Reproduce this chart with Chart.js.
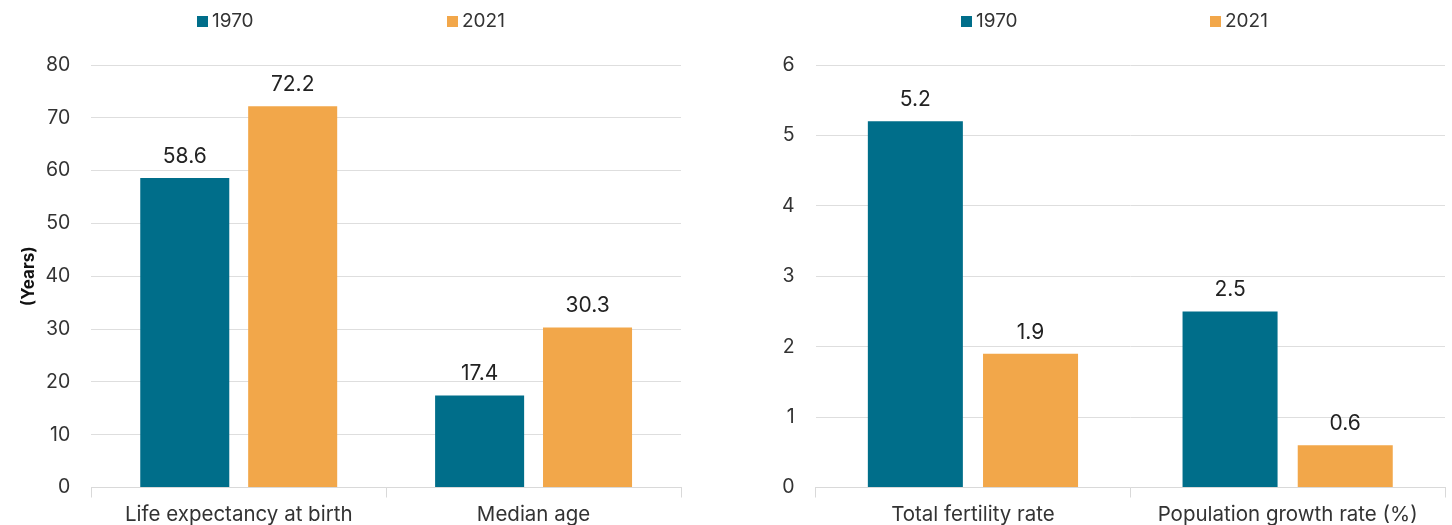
<!DOCTYPE html>
<html>
<head>
<meta charset="utf-8">
<script src="https://cdn.jsdelivr.net/npm/chart.js@4.4.1/dist/chart.umd.min.js"></script>
<style>
  body { margin: 0; background: #fff; font-family: Inter, "Liberation Sans", Arial, sans-serif; }
  #wrap { position: relative; width: 1452px; height: 525px; }
  .box { position: absolute; top: 0; height: 525px; }
  .legend { position: absolute; top: 9px; font-size: 19px; color: #333; white-space: nowrap; }
  .legend i { display: inline-block; width: 11px; height: 11px; margin-right: 4px; vertical-align: 0px; }
</style>
</head>
<body>
<div id="wrap">
  <div class="box" id="leftBox" style="left:0;width:700px"><canvas id="left"></canvas></div>
  <div class="box" id="rightBox" style="left:720px;width:732px"><canvas id="right"></canvas></div>
</div>
<script>
// series names + colours
const seriesNames = ['1970', '2021'];
const seriesColors = ['#006E8A', '#F2A74A'];

// left chart - years
const leftCategories = ['Life expectancy at birth', 'Median age'];
const left1970 = [58.6, 17.4];
const left2021 = [72.2, 30.3];

// right chart
const rightCategories = ['Total fertility rate', 'Population growth rate (%)'];
const right1970 = [5.2, 2.5];
const right2021 = [1.9, 0.6];

const FONT = 'Inter, "Liberation Sans", Arial, sans-serif';

// value labels above bars
const barLabels = {
  id: 'barLabels',
  afterDatasetsDraw(chart) {
    const ctx = chart.ctx;
    ctx.save();
    ctx.font = '21px ' + FONT;
    ctx.fillStyle = '#222';
    ctx.textAlign = 'center';
    ctx.textBaseline = 'bottom';
    chart.data.datasets.forEach((ds, i) => {
      chart.getDatasetMeta(i).data.forEach((bar, j) => {
        ctx.fillText(ds.data[j].toFixed(1), bar.x, bar.y - 11);
      });
    });
    ctx.restore();
  }
};

function makeChart(id, cats, a, b, yMax, yTitle, padLeft, padRight) {
  const ctx = document.getElementById(id).getContext('2d');
  return new Chart(ctx, {
    type: 'bar',
    data: {
      labels: cats,
      datasets: [
        { label: seriesNames[0], data: a, backgroundColor: seriesColors[0],
          categoryPercentage: 0.732, barPercentage: 0.825 },
        { label: seriesNames[1], data: b, backgroundColor: seriesColors[1],
          categoryPercentage: 0.732, barPercentage: 0.825 }
      ]
    },
    options: {
      responsive: true,
      maintainAspectRatio: false,
      animation: false,
      layout: { padding: { top: 65, left: padLeft, right: padRight, bottom: -7 } },
      plugins: { legend: { display: false }, tooltip: { enabled: false } },
      scales: {
        x: {
          grid: { offset: true, drawOnChartArea: false, drawTicks: true, tickLength: 10, color: '#d9d9d9' },
          border: { display: true, color: '#d9d9d9' },
          ticks: { color: '#333', font: { size: 20.5, family: FONT, lineHeight: 1 }, padding: 7 }
        },
        y: {
          min: 0, max: yMax,
          ticks: { stepSize: yMax === 80 ? 10 : 1, color: '#333', padding: 21,
                   font: { size: 19.5, family: FONT } },
          grid: { color: '#dedede', drawTicks: false },
          border: { display: false },
          title: { display: !!yTitle, text: yTitle, color: '#111', padding: { top: 2, bottom: -15 },
                   font: { size: 17, weight: 'bold', family: FONT } }
        }
      }
    },
    plugins: [barLabels]
  });
}

makeChart('left', leftCategories, left1970, left2021, 80, '(Years)', 17, 19);
makeChart('right', rightCategories, right1970, right2021, 6, '', 41, 7);

// html legends, one per chart
function legend(boxId, xs) {
  const box = document.getElementById(boxId);
  seriesNames.forEach((n, i) => {
    const d = document.createElement('div');
    d.className = 'legend';
    d.style.left = xs[i] + 'px';
    d.innerHTML = '<i style="background:' + seriesColors[i] + '"></i>' + n;
    box.appendChild(d);
  });
}
legend('leftBox', [197, 447]);
legend('rightBox', [241, 490]);
</script>
</body>
</html>
